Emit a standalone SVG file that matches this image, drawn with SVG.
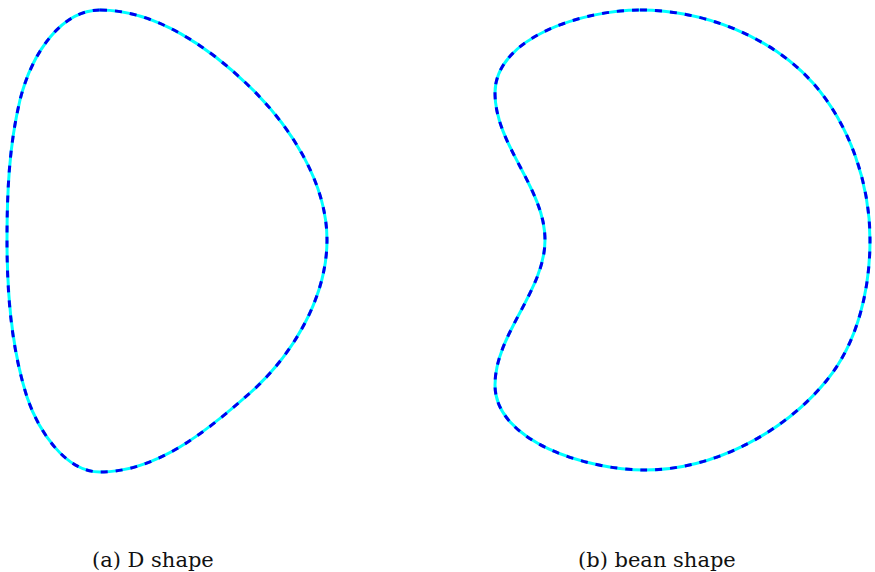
<svg xmlns="http://www.w3.org/2000/svg" width="875" height="572" viewBox="0 0 875 572">
<style>
.base{fill:none;stroke:#00ffff;stroke-width:3;stroke-linejoin:round}
.dash{fill:none;stroke:#0000ee;stroke-width:3;stroke-dasharray:7 8}
.cap{font-family:"DejaVu Serif","Liberation Serif",serif;font-size:21px;fill:#111}
</style>
<defs>
<path id="dpath" d="M100,10 C156,10 210,48 250,87 C291,127 327,183 327,240 C327,297 293,355 250,393 C207,431 157,472 100,472 C65,472 38,430 27,397 C11,347 7,293 7,240 C7,193 9,146 20,100 C32,52 62,10 100,10 Z"/>
<path id="bpath" d="M640,10 C703,10 771,36 813,83 C850,125 870,184 870,240 C870,289 858,342 827,380 C784,433 713,470 645,470 C588,470 495,442 495,385 C495,334 545,291 545,240 C545,188 495,145 495,93 C495,37 584,10 640,10 Z"/>
</defs>
<g id="d-shape">
<use href="#dpath" class="base"/>
<use href="#dpath" class="dash"/>
<text class="cap" x="92" y="567">(a) D shape</text>
</g>
<g id="bean-shape">
<use href="#bpath" class="base"/>
<use href="#bpath" class="dash"/>
<text class="cap" x="578" y="567">(b) bean shape</text>
</g>
</svg>
